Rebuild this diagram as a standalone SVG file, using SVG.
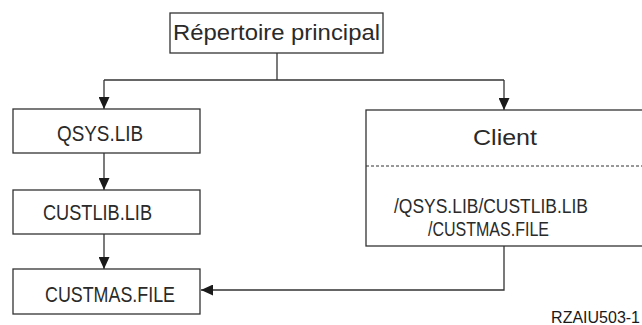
<svg xmlns="http://www.w3.org/2000/svg" width="642" height="325" viewBox="0 0 642 325">
  <style>
    .box { fill: #ffffff; stroke: #333333; stroke-width: 1.3; }
    .wire { fill: none; stroke: #333333; stroke-width: 1.3; }
    .lbl { font-family: "Liberation Sans", Arial, sans-serif; font-size: 22px; fill: #2a2a2a; }
    .path { font-size: 20.5px; }
    .tag { font-family: "Liberation Sans", Arial, sans-serif; font-size: 16px; fill: #1a1a1a; }
  </style>
  <defs>
    <marker id="arrow" markerUnits="userSpaceOnUse" markerWidth="12" markerHeight="11" refX="12" refY="5.5" orient="auto">
      <path d="M0,0 L12,5.5 L0,11 z" fill="#1a1a1a"/>
    </marker>
  </defs>
  <rect width="642" height="325" fill="#ffffff"/>

  <g id="connectors">
    <path class="wire" d="M277,53 V80"/>
    <path class="wire" d="M104,80 H504"/>
    <path class="wire" d="M104,80 V109" marker-end="url(#arrow)"/>
    <path class="wire" d="M504,80 V110" marker-end="url(#arrow)"/>
    <path class="wire" d="M104,153 V190" marker-end="url(#arrow)"/>
    <path class="wire" d="M104,234 V269" marker-end="url(#arrow)"/>
    <path class="wire" d="M504,246 V290 H201" marker-end="url(#arrow)"/>
  </g>

  <g id="root">
    <rect class="box" x="170" y="13" width="213" height="40"/>
    <text class="lbl" x="173" y="39.5" textLength="207" lengthAdjust="spacingAndGlyphs">Répertoire principal</text>
  </g>

  <g id="qsys">
    <rect class="box" x="13" y="109" width="187" height="44"/>
    <text class="lbl" x="57" y="141" textLength="86" lengthAdjust="spacingAndGlyphs">QSYS.LIB</text>
  </g>

  <g id="custlib">
    <rect class="box" x="13" y="190" width="187" height="44"/>
    <text class="lbl" x="43" y="219.5" textLength="109" lengthAdjust="spacingAndGlyphs">CUSTLIB.LIB</text>
  </g>

  <g id="custmas">
    <rect class="box" x="13" y="269" width="187" height="45"/>
    <text class="lbl" x="45" y="301.5" textLength="130" lengthAdjust="spacingAndGlyphs">CUSTMAS.FILE</text>
  </g>

  <g id="client">
    <rect class="box" x="366" y="110" width="280" height="136"/>
    <line x1="366" y1="166" x2="642" y2="166" stroke="#333333" stroke-width="1" stroke-dasharray="3,2"/>
    <text class="lbl" x="473" y="145" textLength="64" lengthAdjust="spacingAndGlyphs">Client</text>
    <text class="lbl path" x="394" y="212.5" textLength="194" lengthAdjust="spacingAndGlyphs">/QSYS.LIB/CUSTLIB.LIB</text>
    <text class="lbl path" x="428" y="236" textLength="121" lengthAdjust="spacingAndGlyphs">/CUSTMAS.FILE</text>
  </g>

  <text class="tag" x="640" y="323" text-anchor="end">RZAIU503-1</text>
</svg>
